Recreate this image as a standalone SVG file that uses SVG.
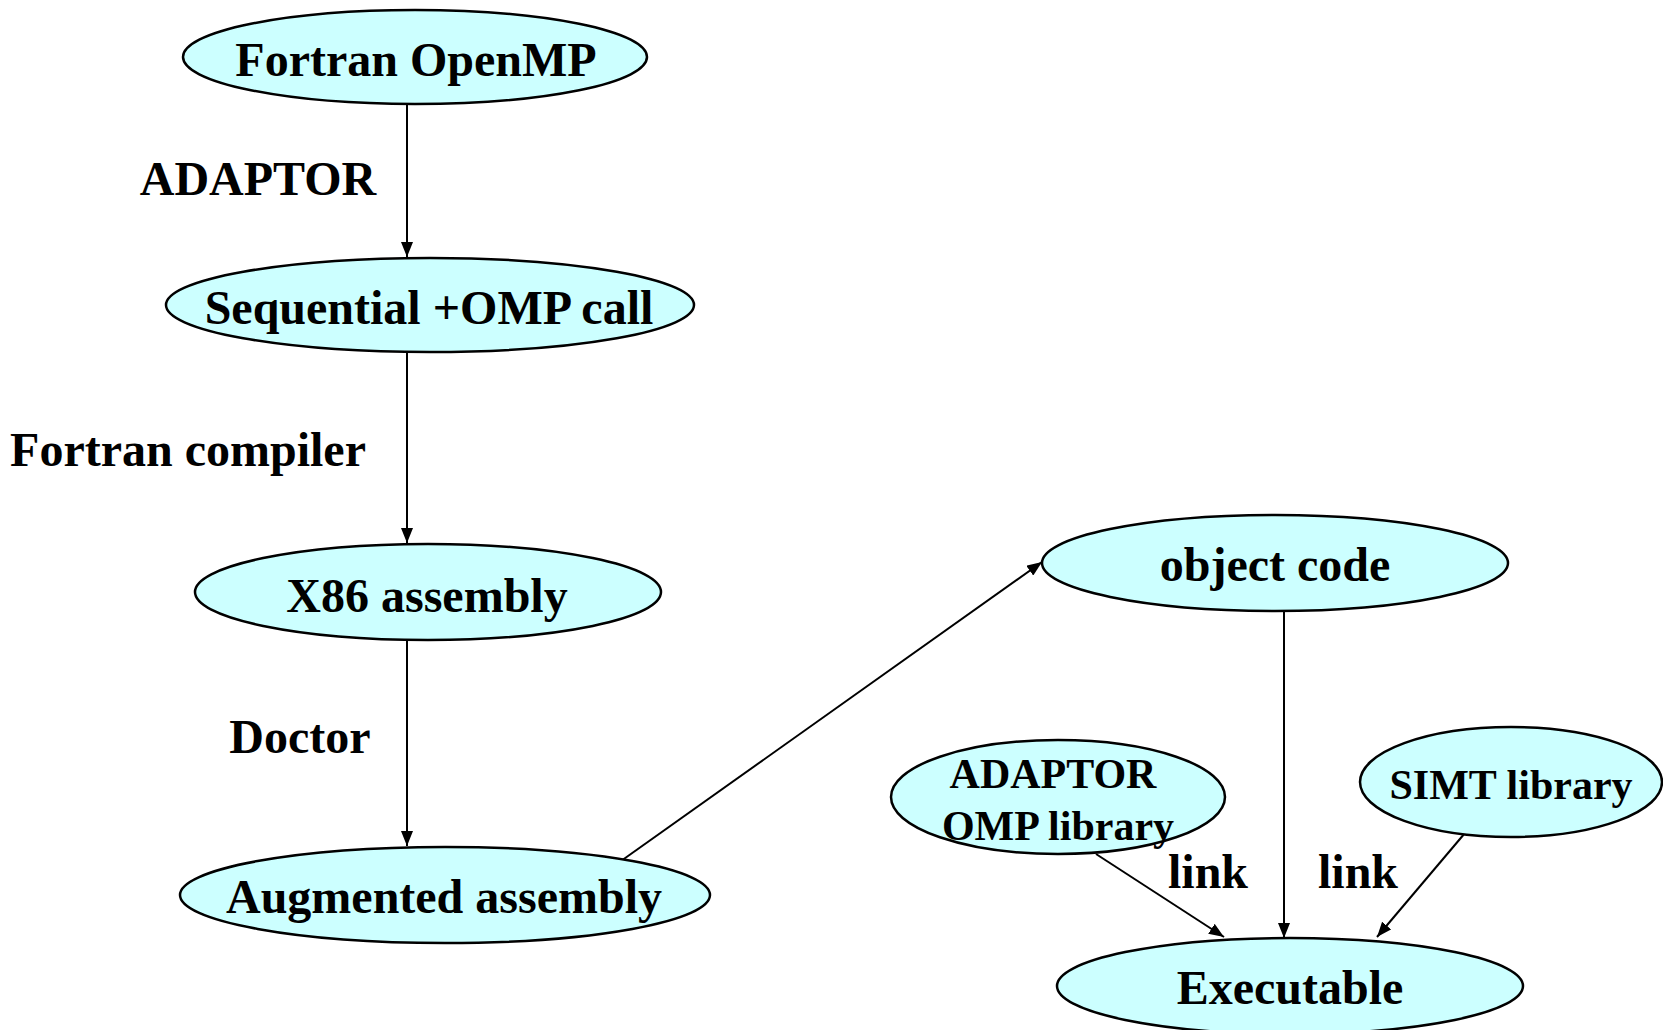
<svg xmlns="http://www.w3.org/2000/svg" width="1663" height="1030" viewBox="0 0 1663 1030">
<style>
.n ellipse{fill:#CCFFFF;stroke:#000;stroke-width:2.5}
text{font-family:"Liberation Serif","Times New Roman",serif;font-weight:bold;fill:#000;text-anchor:middle}
.big{font-size:48px}
.sm{font-size:42px}
.c line{stroke:#000;stroke-width:2;marker-end:url(#ah)}
</style>
<defs>
<marker id="ah" markerUnits="userSpaceOnUse" markerWidth="16" markerHeight="12" refX="15" refY="6" orient="auto">
<path d="M0,0 L15,6 L0,12 z" fill="#000"/>
</marker>
</defs>
<rect width="1663" height="1030" fill="#fff"/>
<g class="c" id="connectors">
<line x1="407" y1="104" x2="407" y2="257"/>
<line x1="407" y1="353" x2="407" y2="543"/>
<line x1="407" y1="641" x2="407" y2="846"/>
<line x1="621" y1="861" x2="1042" y2="562"/>
<line x1="1284" y1="611" x2="1284" y2="938"/>
<line x1="1096" y1="854" x2="1224" y2="937"/>
<line x1="1465" y1="833" x2="1377" y2="937"/>
</g>
<g id="edge-labels">
<text class="big" x="258" y="195">ADAPTOR</text>
<text class="big" x="188" y="466">Fortran compiler</text>
<text class="big" x="300" y="753">Doctor</text>
<text class="big" x="1208" y="888">link</text>
<text class="big" x="1358" y="888">link</text>
</g>
<g class="n" id="fortran-openmp">
<ellipse cx="415" cy="57" rx="232" ry="47"/>
<text class="big" x="416" y="76">Fortran OpenMP</text>
</g>
<g class="n" id="sequential">
<ellipse cx="430" cy="305" rx="264" ry="47"/>
<text class="big" x="429" y="324">Sequential +OMP call</text>
</g>
<g class="n" id="x86">
<ellipse cx="428" cy="592" rx="233" ry="48"/>
<text class="big" x="427" y="612">X86 assembly</text>
</g>
<g class="n" id="augmented">
<ellipse cx="445" cy="895" rx="265" ry="48"/>
<text class="big" x="444" y="913">Augmented assembly</text>
</g>
<g class="n" id="object-code">
<ellipse cx="1275" cy="563" rx="233" ry="48"/>
<text class="big" x="1275" y="581">object code</text>
</g>
<g class="n" id="adaptor-omp-library">
<ellipse cx="1058" cy="797" rx="167" ry="57"/>
<text class="sm" x="1053" y="788">ADAPTOR</text>
<text class="sm" x="1058" y="840">OMP library</text>
</g>
<g class="n" id="simt-library">
<ellipse cx="1511" cy="782" rx="151" ry="55"/>
<text class="sm" x="1511" y="799">SIMT library</text>
</g>
<g class="n" id="executable">
<ellipse cx="1290" cy="986" rx="233" ry="48"/>
<text class="big" x="1290" y="1004">Executable</text>
</g>
</svg>
